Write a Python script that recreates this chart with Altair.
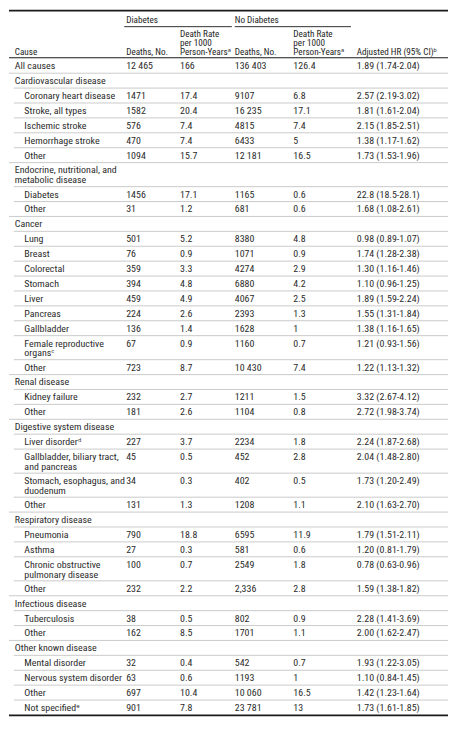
import altair as alt
import pandas as pd

causes = [
    "All causes", "Cardiovascular disease", "Coronary heart disease", "Stroke, all types",
    "Ischemic stroke", "Hemorrhage stroke", "Other",
    "Endocrine, nutritional, and\nmetabolic disease", "Diabetes", "Other",
    "Cancer", "Lung", "Breast", "Colorectal", "Stomach", "Liver", "Pancreas", "Gallbladder",
    "Female reproductive\norgans\u1d9c", "Other",
    "Renal disease", "Kidney failure", "Other",
    "Digestive system disease", "Liver disorder\u1d48", "Gallbladder, biliary tract,\nand pancreas",
    "Stomach, esophagus, and\nduodenum", "Other",
    "Respiratory disease", "Pneumonia", "Asthma", "Chronic obstructive\npulmonary disease", "Other",
    "Infectious disease", "Tuberculosis", "Other",
    "Other known disease", "Mental disorder", "Nervous system disorder", "Other", "Not specified\u1d49",
]
levels = [0, 0, 1, 1, 1, 1, 1,
          0, 1, 1,
          0, 1, 1, 1, 1, 1, 1, 1, 1, 1,
          0, 1, 1,
          0, 1, 1, 1, 1,
          0, 1, 1, 1, 1,
          0, 1, 1,
          0, 1, 1, 1, 1]
diab_deaths = ["12 465", "", "1471", "1582", "576", "470", "1094",
               "", "1456", "31",
               "", "501", "76", "359", "394", "459", "224", "136", "67", "723",
               "", "232", "181",
               "", "227", "45", "34", "131",
               "", "790", "27", "100", "232",
               "", "38", "162",
               "", "32", "63", "697", "901"]
diab_rate = ["166", "", "17.4", "20.4", "7.4", "7.4", "15.7",
             "", "17.1", "1.2",
             "", "5.2", "0.9", "3.3", "4.8", "4.9", "2.6", "1.4", "0.9", "8.7",
             "", "2.7", "2.6",
             "", "3.7", "0.5", "0.3", "1.3",
             "", "18.8", "0.3", "0.7", "2.2",
             "", "0.5", "8.5",
             "", "0.4", "0.6", "10.4", "7.8"]
nodiab_deaths = ["136 403", "", "9107", "16 235", "4815", "6433", "12 181",
                 "", "1165", "681",
                 "", "8380", "1071", "4274", "6880", "4067", "2393", "1628", "1160", "10 430",
                 "", "1211", "1104",
                 "", "2234", "452", "402", "1208",
                 "", "6595", "581", "2549", "2,336",
                 "", "802", "1701",
                 "", "542", "1193", "10 060", "23 781"]
nodiab_rate = ["126.4", "", "6.8", "17.1", "7.4", "5", "16.5",
               "", "0.6", "0.6",
               "", "4.8", "0.9", "2.9", "4.2", "2.5", "1.3", "1", "0.7", "7.4",
               "", "1.5", "0.8",
               "", "1.8", "2.8", "0.5", "1.1",
               "", "11.9", "0.6", "1.8", "2.8",
               "", "0.9", "1.1",
               "", "0.7", "1", "16.5", "13"]
adj_hr = ["1.89 (1.74-2.04)", "", "2.57 (2.19-3.02)", "1.81 (1.61-2.04)", "2.15 (1.85-2.51)",
          "1.38 (1.17-1.62)", "1.73 (1.53-1.96)",
          "", "22.8 (18.5-28.1)", "1.68 (1.08-2.61)",
          "", "0.98 (0.89-1.07)", "1.74 (1.28-2.38)", "1.30 (1.16-1.46)", "1.10 (0.96-1.25)",
          "1.89 (1.59-2.24)", "1.55 (1.31-1.84)", "1.38 (1.16-1.65)", "1.21 (0.93-1.56)",
          "1.22 (1.13-1.32)",
          "", "3.32 (2.67-4.12)", "2.72 (1.98-3.74)",
          "", "2.24 (1.87-2.68)", "2.04 (1.48-2.80)", "1.73 (1.20-2.49)", "2.10 (1.63-2.70)",
          "", "1.79 (1.51-2.11)", "1.20 (0.81-1.79)", "0.78 (0.63-0.96)", "1.59 (1.38-1.82)",
          "", "2.28 (1.41-3.69)", "2.00 (1.62-2.47)",
          "", "1.93 (1.22-3.05)", "1.10 (0.84-1.45)", "1.42 (1.23-1.64)", "1.73 (1.61-1.85)"]

group_labels = ["Diabetes", "No Diabetes"]
col_headers = ["Deaths, No.", "Death Rate\nper 1000\nPerson-Years\u1d43",
               "Deaths, No.", "Death Rate\nper 1000\nPerson-Years\u1d43",
               "Adjusted HR (95% CI)\u1d47"]

# ---------------- layout (reference-pixel units) ----------------
REF_W, REF_H = 457, 734
COL_X = [122, 178, 235, 296, 362]
CAUSE_X, INDENT_X = 6, 16
HEAD_BOTTOM = 50
ROW_H, LINE_H = 15.3, 10
FONT = "Roboto Condensed, Liberation Sans Narrow, DejaVu Sans Condensed, sans-serif"
FS = 10
HFS = 9.2
HEAD_LH = 9.2

text_rows, sep_rows = [], []
top = HEAD_BOTTOM
columns = [diab_deaths, diab_rate, nodiab_deaths, nodiab_rate, adj_hr]
for i, cause in enumerate(causes):
    n_lines = cause.count("\n") + 1
    h = ROW_H + (n_lines - 1) * (LINE_H - 0.6)
    ty = top + 3.0
    text_rows.append({"x": CAUSE_X if levels[i] == 0 else INDENT_X, "y": ty, "t": cause})
    for cx, col in zip(COL_X, columns):
        if col[i]:
            text_rows.append({"x": cx, "y": ty, "t": col[i]})
    if i > 0:
        sep_rows.append({"x": 0 if levels[i] == 0 else 5, "x2": REF_W, "y": top})
    top += h
bottom = top

head_rows = [{"x": CAUSE_X, "y": 39.4, "t": "Cause"}]
for cx, lab in zip(COL_X, col_headers):
    nl = lab.count("\n")
    head_rows.append({"x": cx, "y": 39.4 - nl * HEAD_LH, "t": lab})
for cx, lab in zip([COL_X[0], COL_X[2]], group_labels):
    head_rows.append({"x": cx, "y": 7.0, "t": lab})

strong_rules = pd.DataFrame([
    {"x": 0, "x2": REF_W, "y": 1, "w": 1.6},
    {"x": 0, "x2": REF_W, "y": HEAD_BOTTOM - 0.5, "w": 1.1},
    {"x": 0, "x2": REF_W, "y": bottom + 0.5, "w": 1.6},
    {"x": 120, "x2": 232, "y": 17.5, "w": 0.9},
    {"x": 235, "x2": 356, "y": 17.5, "w": 0.9},
])

xs = alt.Scale(domain=[0, REF_W], nice=False, zero=False)
ys = alt.Scale(domain=[0, REF_H], nice=False, zero=False, reverse=True)

def X(f="x"):
    return alt.X(f"{f}:Q", scale=xs, axis=None)

def Y():
    return alt.Y("y:Q", scale=ys, axis=None)

seps = alt.Chart(pd.DataFrame(sep_rows)).mark_rule(color="#bdbdbd", strokeWidth=0.8).encode(
    x=X(), x2="x2:Q", y=Y())

strong = alt.Chart(strong_rules).mark_rule(color="#1a1a1a").encode(
    x=X(), x2="x2:Q", y=Y(), strokeWidth=alt.StrokeWidth("w:Q", scale=None, legend=None))

body = alt.Chart(pd.DataFrame(text_rows)).mark_text(
    align="left", baseline="top", font=FONT, fontSize=FS, lineBreak="\n",
    lineHeight=LINE_H, color="#2b2b2b").encode(x=X(), y=Y(), text="t:N")

head = alt.Chart(pd.DataFrame(head_rows)).mark_text(
    align="left", baseline="top", font=FONT, fontSize=HFS, lineBreak="\n",
    lineHeight=HEAD_LH, color="#1e1e1e").encode(x=X(), y=Y(), text="t:N")

chart = alt.layer(seps, strong, body, head).properties(
    width=441, height=718, padding=0, background="white"
).configure_view(stroke=None)

chart.save("out.html", embed_options={"renderer": "svg", "actions": False})
